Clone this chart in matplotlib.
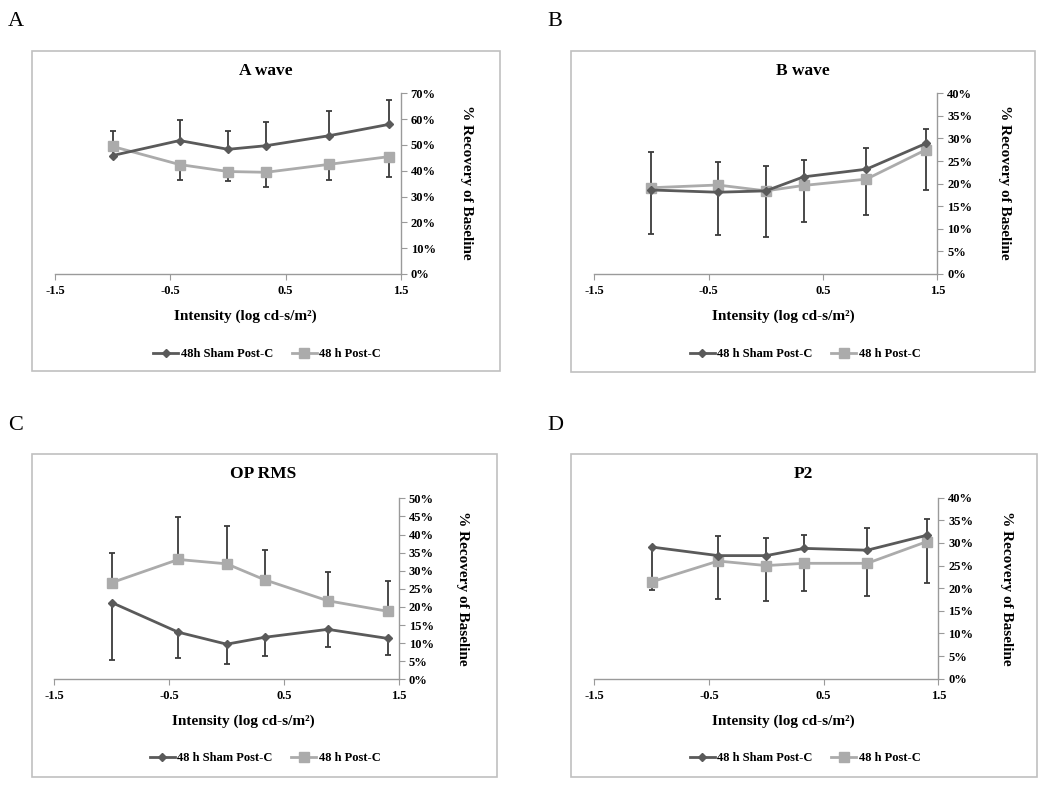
import numpy as np
import matplotlib
matplotlib.use("Agg")
import matplotlib.pyplot as plt
from matplotlib.patches import Rectangle
from matplotlib.ticker import FuncFormatter
from matplotlib.lines import Line2D

plt.rcParams['font.family'] = ['Liberation Serif', 'DejaVu Serif']

# light intensities (log cd-s/m2)
intensity = [-1.0, -0.42, 0.0, 0.33, 0.88, 1.4]

# A wave
a_sham = [45.9, 51.7, 48.3, 49.7, 53.6, 58.0]
a_sham_err = [9.5, 8.0, 7.1, 9.2, 9.7, 9.4]
a_postc = [49.4, 42.4, 39.7, 39.4, 42.5, 45.5]
a_postc_err = [0.0, 6.0, 3.7, 5.7, 6.1, 7.8]

# B wave
b_sham = [18.6, 18.1, 18.4, 21.5, 23.2, 28.9]
b_sham_err = [8.3, 6.8, 5.5, 3.7, 4.6, 3.3]
b_postc = [19.1, 19.7, 18.4, 19.6, 21.0, 27.5]
b_postc_err = [10.3, 11.1, 10.1, 8.0, 7.9, 8.9]

# OP RMS
c_sham = [21.2, 13.0, 9.7, 11.6, 13.8, 11.3]
c_sham_err = [16.0, 7.0, 5.6, 5.1, 4.9, 4.5]
c_postc = [26.7, 33.1, 31.9, 27.5, 21.7, 18.8]
c_postc_err = [8.3, 11.7, 10.4, 8.3, 7.9, 8.4]

# P2
d_sham = [29.1, 27.2, 27.2, 28.8, 28.4, 31.7]
d_sham_err = [-9.4, 4.4, 3.9, 3.0, 5.0, 3.7]   # negative = bar drawn downward
d_postc = [21.4, 26.0, 25.0, 25.5, 25.5, 30.3]
d_postc_err = [0.0, 8.3, 7.8, 6.1, 7.2, 9.1]

DARK = '#5a5a5a'
LIGHT = '#ababab'
ERR = '#3c3c3c'
SPINE = '#9a9a9a'

fig = plt.figure(figsize=(10.5, 7.87), dpi=100)
W, H = 1050.0, 787.0


def fx(px):
    return px / W


def fy(py):
    return 1 - py / H


def bars(ax, x, y, err, up):
    x = np.array(x)
    y = np.array(y)
    err = np.array(err)
    sign = 1 if up else -1
    end = y + sign * err
    m = err != 0
    ax.vlines(x[m], y[m], end[m], color=ERR, lw=1.3, zorder=2)
    ax.plot(x[m], end[m], ls='none', marker='_', ms=5, mew=1.3, color=ERR, zorder=2)


def panel(box, axpos, ymax, ystep, sham, sham_err, postc, postc_err,
          sham_up, title, sham_label, centers, letter, letter_pos):
    # border around the chart
    x0, y0, x1, y1 = box
    fig.patches.append(Rectangle((fx(x0), fy(y1)), fx(x1 - x0), (y1 - y0) / H,
                                 transform=fig.transFigure, fill=False,
                                 edgecolor='#c0c0c0', lw=1.2))
    fig.text(fx(letter_pos[0]), fy(letter_pos[1]), letter, fontsize=16,
             ha='left', va='center')

    l, r, b, t = axpos
    ax = fig.add_axes([fx(l), fy(b), fx(r - l), (b - t) / H])
    bars(ax, intensity, sham, sham_err, sham_up)
    bars(ax, intensity, postc, postc_err, not sham_up)
    ax.plot(intensity, sham, color=DARK, lw=2.0, marker='D', ms=4.5, zorder=4)
    ax.plot(intensity, postc, color=LIGHT, lw=2.0, marker='s', ms=6.5, zorder=3)

    ax.set_xlim(-1.5, 1.5)
    ax.set_ylim(0, ymax)
    ax.set_xticks([-1.5, -0.5, 0.5, 1.5])
    ax.set_xticklabels(['-1.5', '-0.5', '0.5', '1.5'])
    ax.set_yticks(np.arange(0, ymax + 0.1, ystep))
    ax.yaxis.set_major_formatter(FuncFormatter(lambda v, p: f'{v:.0f}%'))
    ax.yaxis.tick_right()
    for s in ['left', 'top']:
        ax.spines[s].set_visible(False)
    for s in ['right', 'bottom']:
        ax.spines[s].set_color(SPINE)
        ax.spines[s].set_linewidth(1.0)
    ax.tick_params(axis='y', direction='out', length=4, color=SPINE, pad=3,
                   labelsize=9, left=False, right=True)
    ax.tick_params(axis='x', direction='out', length=4, color=SPINE, pad=4,
                   labelsize=9)
    for lab in ax.get_xticklabels() + ax.get_yticklabels():
        lab.set_fontweight('bold')
    ax.patch.set_alpha(0)

    tx, ty, lx, ly, yx, yy, gx, gy = centers
    fig.text(fx(tx), fy(ty), title, fontsize=12.5, fontweight='bold',
             ha='center', va='center')
    fig.text(fx(lx), fy(ly), 'Intensity (log cd-s/m²)', fontsize=11,
             fontweight='bold', ha='center', va='center')
    fig.text(fx(yx), fy(yy), '% Recovery of Baseline', fontsize=11,
             fontweight='bold', ha='center', va='center', rotation=-90)
    handles = [Line2D([], [], color=DARK, lw=2.0, marker='D', ms=4.5),
               Line2D([], [], color=LIGHT, lw=2.0, marker='s', ms=6.5)]
    fig.legend(handles, [sham_label, '48 h Post-C'], loc='center',
               bbox_to_anchor=(fx(gx), fy(gy)), ncol=2, frameon=False,
               prop={'size': 9, 'weight': 'bold'}, handlelength=2.0,
               handletextpad=0.2, columnspacing=1.5)
    return ax


panel((32, 51, 500, 371), (55, 401, 274, 93.3), 70, 10,
      a_sham, a_sham_err, a_postc, a_postc_err, True, 'A wave',
      '48h Sham Post-C', (266, 71, 245, 316, 467, 182, 267, 354), 'A', (8, 22))

panel((571, 51, 1035, 372), (594.3, 937.3, 274, 93.3), 40, 5,
      b_sham, b_sham_err, b_postc, b_postc_err, True, 'B wave',
      '48 h Sham Post-C', (803, 71, 783, 316, 1004, 182, 805, 354), 'B', (547, 22))

panel((32, 454, 497, 777), (54.3, 399, 679.3, 498.3), 50, 5,
      c_sham, c_sham_err, c_postc, c_postc_err, False, 'OP RMS',
      '48 h Sham Post-C', (263, 474, 243, 721, 463, 588, 265, 758), 'C', (8, 425))

panel((571, 454, 1037, 777), (594.3, 938.3, 678.7, 497.7), 40, 5,
      d_sham, [abs(e) if e > 0 else 0 for e in d_sham_err], d_postc, d_postc_err,
      True, 'P2',
      '48 h Sham Post-C', (803, 474, 783, 721, 1006, 588, 805, 758), 'D', (547, 425))

# P2 first point: sham error bar drawn downward
ax_d = fig.axes[-1]
bars(ax_d, intensity, d_sham, [-e if e < 0 else 0 for e in d_sham_err], False)

fig.savefig('out.png', dpi=100)
